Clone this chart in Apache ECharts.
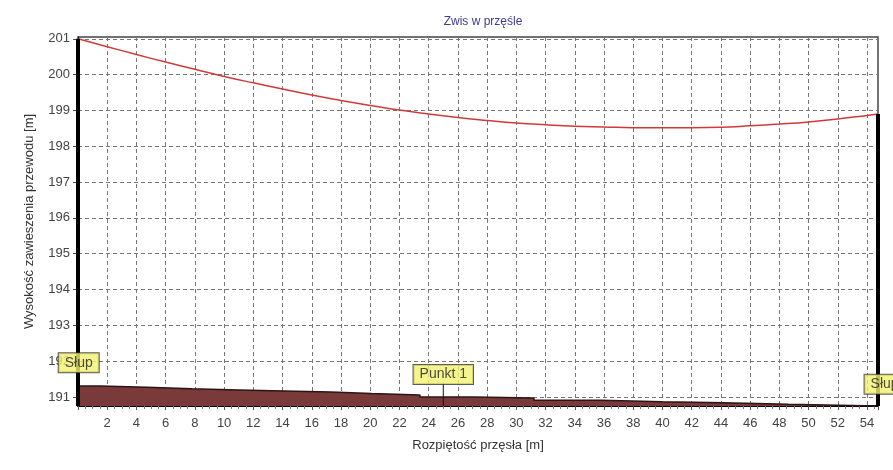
<!DOCTYPE html>
<html>
<head>
<meta charset="utf-8">
<script src="https://cdn.jsdelivr.net/npm/echarts@6/dist/echarts.min.js"></script>
<style>
html,body{margin:0;padding:0;background:#fff;}
#chart{width:893px;height:470px;}
</style>
</head>
<body>
<div id="chart"></div>
<script>
// zwis przewodu w przesle
var spanX = [0, 2, 4, 6, 8, 10, 12, 14, 16, 18, 20, 22, 24, 26, 28, 30, 32, 34, 36, 38, 40, 42, 44, 46, 48, 50, 52, 54, 54.75];
var sagY = [201.0, 200.78, 200.56, 200.35, 200.15, 199.95, 199.77, 199.6, 199.43, 199.28, 199.14, 199.01, 198.9, 198.8, 198.72, 198.65, 198.6, 198.56, 198.54, 198.52, 198.52, 198.52, 198.53, 198.57, 198.62, 198.68, 198.76, 198.86, 198.9];

// profil terenu (schodki)
var groundX = [0, 1.5, 4.7, 7.8, 11, 14.1, 17.3, 20.1, 23.4, 27.1, 31.2, 35.8, 40, 44.2, 48.6, 54.75];
var groundY = [191.31, 191.27, 191.23, 191.2, 191.17, 191.14, 191.1, 191.06, 191.0, 190.97, 190.91, 190.87, 190.84, 190.8, 190.75, 190.75];

var yTicks = [191, 192, 193, 194, 195, 196, 197, 198, 199, 200, 201];
var yMin = 190.75, yMax = 201.05, xMax = 54.75;

var poles = [
    {name: 'Słup', x: 0, top: 201.0, labelX: 0.05, labelY: 191.96},
    {name: 'Słup', x: 54.75, top: 198.9, labelX: 55.2, labelY: 191.36}
];
var point1 = {name: 'Punkt 1', x: 25, labelY: 191.63, lineTop: 191.4};

function pairs(xs, ys){
    var out = [];
    for(var i=0;i<xs.length;i++){
        out.push([xs[i], ys[i]]);
    }
    return out;
}

var labelStyle = {
    show: true,
    position: 'inside',
    color: '#222',
    fontSize: 14,
    fontFamily: 'Liberation Sans, Arial',
    backgroundColor: '#f3f173',
    borderColor: '#333',
    borderWidth: 1,
    padding: [3, 6, 2, 6],
    formatter: function(p){ return p.data.name; }
};

var series = [];
series.push({
    type: 'line',
    step: 'end',
    data: pairs(groundX, groundY),
    symbol: 'none',
    lineStyle: {color: '#2b1616', width: 1.5},
    areaStyle: {color: '#7a3a3a', opacity: 1, origin: 'start'},
    z: 2
});
series.push({
    type: 'line',
    smooth: true,
    data: pairs(spanX, sagY),
    symbol: 'none',
    lineStyle: {color: '#d23a3a', width: 1.5},
    z: 3
});
for(var i=0;i<poles.length;i++){
    series.push({
        type: 'line',
        data: [[poles[i].x, yMin], [poles[i].x, poles[i].top]],
        symbol: 'none',
        clip: false,
        lineStyle: {color: '#000', width: 4},
        z: 4
    });
}
series.push({
    type: 'line',
    data: [[point1.x, yMin], [point1.x, point1.lineTop]],
    symbol: 'none',
    lineStyle: {color: '#111', width: 1},
    z: 4
});
series.push({
    type: 'scatter',
    symbolSize: 2,
    clip: false,
    itemStyle: {color: 'rgba(0,0,0,0)'},
    label: labelStyle,
    emphasis: {disabled: true},
    data: [
        {name: poles[0].name, value: [poles[0].labelX, poles[0].labelY]},
        {name: point1.name, value: [point1.x, point1.labelY]},
        {name: poles[1].name, value: [poles[1].labelX, poles[1].labelY]}
    ],
    z: 6
});

var myChart = echarts.init(document.getElementById('chart'));
var option = {
    animation: false,
    backgroundColor: '#fff',
    textStyle: {fontFamily: 'Liberation Sans, Arial'},
    title: {
        text: 'Zwis w przęśle',
        left: 478,
        top: 11,
        textAlign: 'center',
        textStyle: {color: '#3b3b9c', fontSize: 12, fontWeight: 'normal', fontFamily: 'Liberation Sans, Arial'}
    },
    grid: {left: 78, right: 15, top: 37, bottom: 64, show: true, borderColor: '#444', borderWidth: 1.5},
    xAxis: {
        type: 'value',
        min: 0,
        max: xMax,
        interval: 2,
        name: 'Rozpiętość przęsła [m]',
        nameLocation: 'middle',
        nameGap: 33,
        nameTextStyle: {color: '#333', fontSize: 13},
        axisLine: {lineStyle: {color: '#000', width: 2}},
        axisTick: {show: true, length: 4, inside: false, lineStyle: {color: '#555'}},
        minorTick: {show: true, splitNumber: 4, length: 3, lineStyle: {color: '#777'}},
        axisLabel: {
            color: '#444', fontSize: 13, margin: 11,
            formatter: function(v){ return (v > 0 && v % 2 == 0) ? String(v) : ''; }
        },
        splitLine: {show: true, lineStyle: {color: '#777', type: [4, 3], width: 1}}
    },
    yAxis: {
        type: 'value',
        min: yMin,
        max: yMax,
        name: 'Wysokość zawieszenia przewodu [m]',
        nameLocation: 'middle',
        nameGap: 42,
        nameTextStyle: {color: '#333', fontSize: 13},
        axisLine: {show: true, lineStyle: {color: '#000', width: 1}},
        axisTick: {show: true, length: 5, customValues: yTicks, lineStyle: {color: '#555'}},
        axisLabel: {color: '#444', fontSize: 13, margin: 8, customValues: yTicks},
        splitLine: {show: true, lineStyle: {color: '#777', type: [4, 3], width: 1}}
    },
    series: series
};
myChart.setOption(option);
</script>
</body>
</html>
